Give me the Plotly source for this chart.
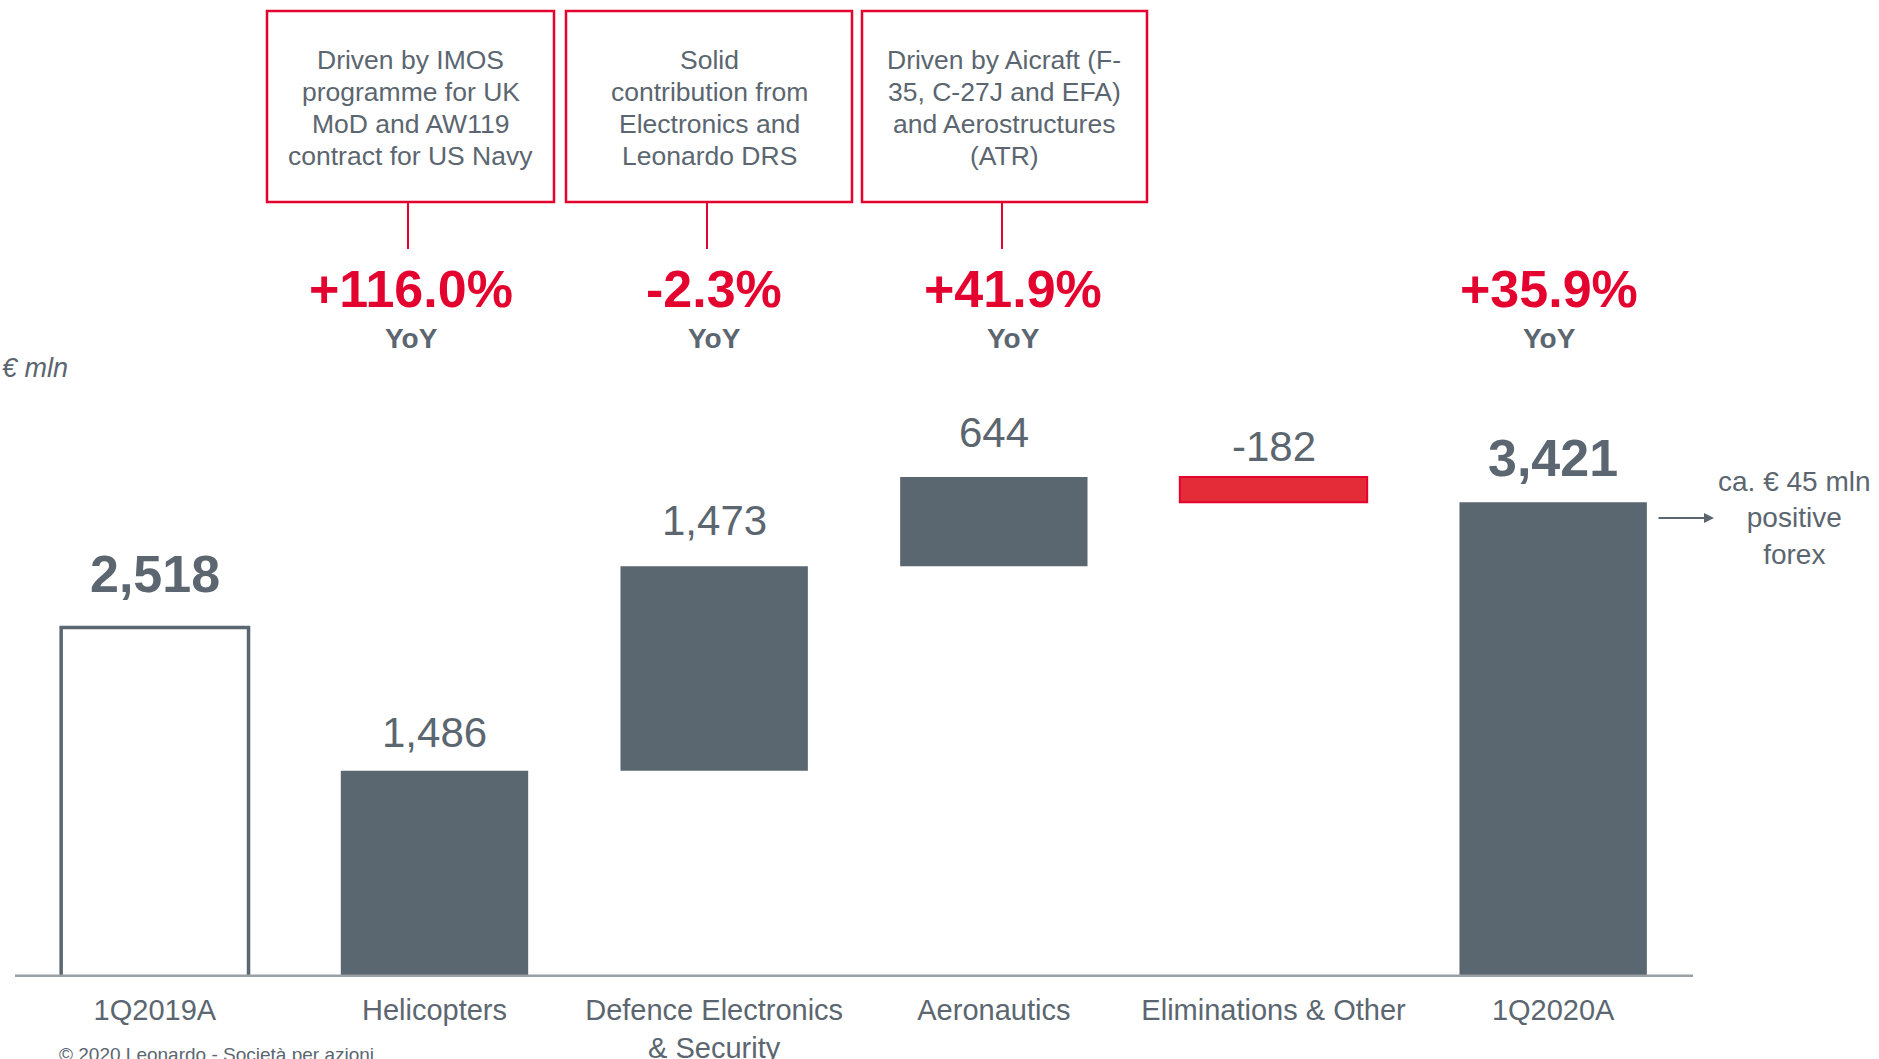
import plotly.graph_objects as go

# ---------------- data ----------------
categories = ["1Q2019A", "Helicopters", "Defence Electronics<br>& Security",
              "Aeronautics", "Eliminations & Other", "1Q2020A"]
start_value = 2518            # 1Q2019A
segment_values = [1486, 1473, 644, -182]   # contributions 1Q2020A
end_value = 3421              # 1Q2020A
value_labels = ["2,518", "1,486", "1,473", "644", "-182", "3,421"]

yoy_labels = ["+116.0%", "-2.3%", "+41.9%", "+35.9%"]
notes = [
    ["Driven by IMOS", "programme for UK", "MoD and AW119", "contract for US Navy"],
    ["Solid", "contribution from", "Electronics and", "Leonardo DRS"],
    ["Driven by Aicraft (F-", "35, C-27J and EFA)", "and Aerostructures", "(ATR)"],
]
forex_note = "ca. € 45 mln<br>positive<br>forex"
unit_label = "€ mln"
footer = "© 2020 Leonardo - Società per azioni"

# ---------------- styles ----------------
GRAY = "#5b6770"
TEXT = "#5b6670"
RED = "#e4032e"
RED_FILL = "#e42c39"
AXIS = "#9aa0a4"
FONT = "Liberation Sans, Arial, sans-serif"

W, H = 1879, 1059
ML, MR, MT, MB = 15, 186, 0, 82
PW, PH = W - ML - MR, H - MT - MB
YMAX = 7040


def px(xp):
    return (xp - ML) / PW


def py(yp):
    return (H - MB - yp) / PH


# waterfall bases computed from the data
bases = []
run = 0
for v in segment_values:
    bases.append(run)
    run += v

fig = go.Figure()
fig.add_trace(go.Bar(
    x=[categories[0]], y=[start_value], base=[0], width=0.67,
    marker=dict(color="white", line=dict(color=GRAY, width=3.5)),
    hoverinfo="skip"))
fig.add_trace(go.Bar(
    x=categories[1:5], y=segment_values, base=bases, width=0.67,
    marker=dict(color=[GRAY if v >= 0 else RED_FILL for v in segment_values],
                line=dict(color=[GRAY if v >= 0 else RED for v in segment_values],
                          width=[0 if v >= 0 else 2 for v in segment_values])),
    hoverinfo="skip"))
fig.add_trace(go.Bar(
    x=[categories[5]], y=[end_value], base=[0], width=0.67,
    marker=dict(color=GRAY, line=dict(width=0)),
    hoverinfo="skip"))

# baseline
fig.add_shape(type="line", xref="x", yref="y", x0=-0.5, x1=5.5, y0=0, y1=0,
              line=dict(color=AXIS, width=5))

# value labels above bars
tops = [start_value] + [max(b, b + v) for b, v in zip(bases, segment_values)] + [end_value]
shifts = [54, 38, 46, 44, 30, 44]
bold = [True, False, False, False, False, True]
for cat, top, lab, sh, b in zip(categories, tops, value_labels, shifts, bold):
    fig.add_annotation(x=cat, y=top, xref="x", yref="y", text=f"<b>{lab}</b>" if b else lab,
                       showarrow=False, yanchor="middle", yshift=sh,
                       font=dict(family=FONT, size=52 if b else 42, color=TEXT))

# note boxes with connectors
box_x = [(267, 554), (566, 852), (862, 1147)]
conn_x = [408, 707, 1002]
line_y = [60, 92, 124, 156]
for (x0, x1), cx, note in zip(box_x, conn_x, notes):
    fig.add_shape(type="rect", xref="paper", yref="paper", x0=px(x0), x1=px(x1),
                  y0=py(202), y1=py(11), line=dict(color=RED, width=2.5),
                  fillcolor="rgba(0,0,0,0)")
    fig.add_shape(type="line", xref="paper", yref="paper", x0=px(cx), x1=px(cx),
                  y0=py(249), y1=py(202), line=dict(color=RED, width=2))
    for ly, txt in zip(line_y, note):
        fig.add_annotation(xref="paper", yref="paper", x=px((x0 + x1) / 2), y=py(ly),
                           text=txt, showarrow=False, xanchor="center", yanchor="middle",
                           font=dict(family=FONT, size=26.5, color=TEXT))

# YoY labels
yoy_x = [411, 714, 1013, 1549]
for xx, lab in zip(yoy_x, yoy_labels):
    fig.add_annotation(xref="paper", yref="paper", x=px(xx), y=py(289), text=f"<b>{lab}</b>",
                       showarrow=False, xanchor="center", yanchor="middle",
                       font=dict(family=FONT, size=52, color=RED))
    fig.add_annotation(xref="paper", yref="paper", x=px(xx), y=py(339), text="<b>YoY</b>",
                       showarrow=False, xanchor="center", yanchor="middle",
                       font=dict(family=FONT, size=28, color=TEXT))

# unit label
fig.add_annotation(xref="paper", yref="paper", x=px(0), y=py(368), text=f"<i>{unit_label}</i>",
                   showarrow=False, xanchor="left", yanchor="middle",
                   font=dict(family=FONT, size=27, color=TEXT))

# forex note with arrow
fig.add_annotation(xref="paper", yref="paper", x=px(1794), y=py(518), text=forex_note,
                   showarrow=False, xanchor="center", yanchor="middle",
                   font=dict(family=FONT, size=28, color=TEXT))
fig.add_annotation(xref="paper", yref="paper", x=px(1714), y=py(518), ax=-57, ay=0,
                   text="", showarrow=True, arrowhead=2, arrowsize=1,
                   arrowwidth=2, arrowcolor=TEXT)

# footer
fig.add_annotation(xref="paper", yref="paper", x=px(57), y=py(1054), text=footer,
                   showarrow=False, xanchor="left", yanchor="middle",
                   font=dict(family=FONT, size=19, color=TEXT))

fig.update_layout(
    width=W, height=H, autosize=False,
    margin=dict(l=ML, r=MR, t=MT, b=MB, autoexpand=False),
    paper_bgcolor="white", plot_bgcolor="white",
    barmode="overlay", showlegend=False,
    xaxis=dict(type="category", categoryorder="array", categoryarray=categories,
               range=[-0.5, 5.5], showgrid=False, zeroline=False, showline=False,
               ticks="", ticklabelstandoff=13, automargin=False,
               tickfont=dict(family=FONT, size=29, color=TEXT)),
    yaxis=dict(range=[0, YMAX], visible=False, showgrid=False, zeroline=False,
               automargin=False),
)

fig.write_html("out.html")
